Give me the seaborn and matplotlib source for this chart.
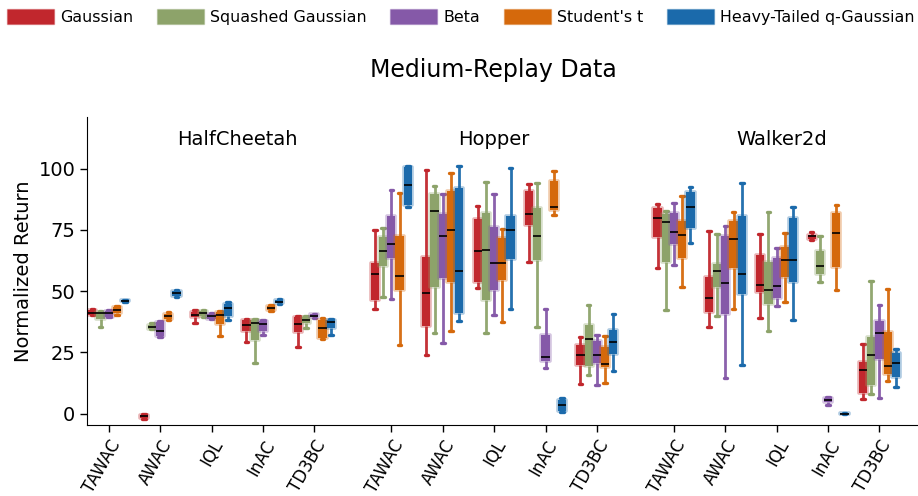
import numpy as np
import pandas as pd
import seaborn as sns
import matplotlib.pyplot as plt
from matplotlib.patches import Patch
from matplotlib.colors import to_rgba

envs = ["HalfCheetah", "Hopper", "Walker2d"]
algos = ["TAWAC", "AWAC", "IQL", "InAC", "TD3BC"]
dists = ["Gaussian", "Squashed Gaussian", "Beta", "Student's t", "Heavy-Tailed q-Gaussian"]
colors = ["#c1272d", "#8da36a", "#8559a8", "#d5690c", "#1b6aab"]

# five-number summaries: [low whisker, q1, median, q3, high whisker]
# order: distribution -> algorithm (TAWAC, AWAC, IQL, InAC, TD3BC)
halfcheetah = [
    [[40.1, 40.3, 41.2, 42.2, 42.8], [-2.4, -2.0, -1.0, -0.4, 0.0], [36.9, 39.3, 40.3, 41.4, 42.4], [29.0, 33.8, 36.1, 38.2, 38.7], [27.2, 33.3, 36.4, 39.5, 39.9]],
    [[35.4, 38.4, 40.9, 41.6, 42.0], [34.4, 34.6, 35.3, 36.3, 36.8], [39.3, 39.8, 40.9, 42.0, 42.3], [20.6, 29.9, 37.1, 38.2, 38.6], [34.9, 36.8, 38.3, 39.3, 39.8]],
    [[39.3, 39.5, 40.9, 42.0, 42.3], [31.1, 31.6, 33.5, 37.4, 37.9], [38.4, 38.7, 39.8, 40.7, 41.0], [32.2, 33.8, 36.5, 37.6, 38.3], [39.1, 39.4, 39.8, 40.5, 40.7]],
    [[40.2, 41.0, 42.4, 43.3, 44.0], [38.3, 38.6, 39.8, 40.7, 41.3], [31.8, 36.4, 40.3, 41.3, 41.8], [41.7, 42.1, 43.1, 44.0, 44.4], [30.3, 31.0, 35.0, 38.2, 39.1]],
    [[45.7, 45.9, 46.05, 46.2, 46.4], [47.7, 48.1, 49.05, 49.9, 50.4], [38.2, 39.7, 42.9, 44.7, 45.5], [44.8, 45.1, 45.6, 46.2, 46.6], [31.9, 34.9, 37.2, 38.0, 38.7]],
]
hopper = [
    [[42.5, 46.3, 56.8, 61.3, 74.8], [23.7, 35.7, 49.4, 63.7, 99.3], [51.4, 53.7, 66.3, 79.3, 84.7], [61.7, 77.1, 81.4, 90.7, 93.7], [12.2, 19.9, 23.7, 27.8, 31.4]],
    [[47.7, 60.2, 66.3, 72.1, 75.6], [32.9, 51.5, 82.7, 89.7, 93.0], [32.9, 46.5, 66.9, 82.0, 94.5], [35.4, 62.5, 72.6, 84.0, 94.1], [15.9, 19.4, 30.6, 36.0, 44.4]],
    [[46.7, 63.6, 69.2, 80.5, 91.1], [28.6, 55.2, 72.5, 81.4, 89.6], [40.3, 50.6, 61.3, 76.3, 89.7], [18.4, 21.4, 22.9, 32.0, 42.8], [11.5, 20.5, 23.9, 29.6, 32.0]],
    [[27.9, 50.4, 56.3, 72.6, 90.1], [33.6, 53.8, 75.0, 90.8, 98.2], [37.2, 54.6, 61.4, 71.5, 75.3], [81.2, 83.1, 84.3, 94.9, 99.1], [12.6, 18.8, 20.2, 27.3, 31.8]],
    [[84.3, 85.0, 93.4, 100.5, 101.2], [37.9, 41.2, 58.0, 92.2, 101.0], [42.7, 63.1, 74.8, 80.5, 100.3], [0.8, 1.2, 3.5, 5.5, 6.3], [17.3, 24.2, 29.2, 34.0, 40.6]],
]
walker2d = [
    [[59.5, 71.9, 79.7, 83.7, 85.7], [35.2, 41.4, 47.0, 55.6, 74.6], [38.8, 49.5, 52.4, 64.6, 73.1], [70.7, 71.1, 72.3, 73.0, 74.1], [5.8, 8.2, 17.6, 21.0, 28.2]],
    [[42.1, 61.8, 78.2, 81.6, 82.7], [39.7, 51.5, 58.0, 60.9, 73.4], [33.7, 44.6, 50.4, 61.8, 82.1], [53.8, 57.1, 60.1, 66.2, 72.3], [8.0, 11.8, 23.7, 31.2, 53.9]],
    [[60.6, 69.2, 74.2, 82.0, 85.9], [14.5, 40.6, 53.1, 72.5, 76.4], [44.0, 47.3, 51.9, 63.5, 67.6], [3.5, 4.6, 5.4, 6.3, 6.6], [6.2, 22.4, 32.7, 37.6, 44.4]],
    [[51.8, 63.6, 72.7, 78.6, 88.9], [42.8, 59.5, 71.1, 78.7, 82.4], [45.4, 55.6, 62.5, 67.8, 73.8], [50.3, 59.8, 73.5, 81.8, 85.0], [13.4, 16.3, 19.3, 33.3, 51.0]],
    [[69.5, 75.7, 84.1, 90.4, 92.5], [19.7, 48.8, 56.8, 80.6, 94.1], [38.0, 53.8, 62.6, 80.0, 84.1], [-0.2, -0.1, 0.0, 0.2, 0.3], [10.7, 14.9, 20.5, 24.7, 26.5]],
]
env_data = [halfcheetah, hopper, walker2d]
env_offsets = [0.0, 5.5, 11.0]

rows = []
for env, off, data in zip(envs, env_offsets, env_data):
    for d, dist in enumerate(dists):
        for a, algo in enumerate(algos):
            for v in data[d][a]:
                rows.append({"pos": off + a, "dist": dist, "value": v})
df = pd.DataFrame(rows)

sns.set_style("ticks")
plt.rcParams["font.family"] = ["DejaVu Sans"]
for k in ["text.color", "axes.labelcolor", "xtick.color", "ytick.color", "axes.edgecolor"]:
    plt.rcParams[k] = "black"

fig = plt.figure(figsize=(9.18, 4.96), dpi=100)
ax = fig.add_axes([0.095, 0.143, 0.905, 0.621])

sns.boxplot(data=df, x="pos", y="value", hue="dist", hue_order=dists,
            native_scale=True, whis=(0, 100), width=0.8, gap=0,
            showfliers=False, palette=colors, saturation=1, ax=ax,
            legend=False)

for i, cont in enumerate(ax.containers):
    c = colors[i]
    for b in cont.boxes:
        b.set_facecolor(c)
        b.set_edgecolor(to_rgba(c, 0.35))
        b.set_linewidth(2.6)
        b.set_joinstyle("round")
    for w in cont.whiskers:
        w.set_color(c)
        w.set_linewidth(2.0)
        w.set_alpha(0.95)
    for cp in cont.caps:
        cp.set_color(c)
        cp.set_linewidth(2.4)
        cp.set_solid_capstyle("round")
        xd = np.asarray(cp.get_xdata(), dtype=float)
        mid = xd.mean()
        cp.set_xdata([mid - 0.035, mid + 0.035])
    for m in cont.medians:
        m.set_color("black")
        m.set_linewidth(1.2)
        m.set_zorder(5)

ticks = [off + a for off in env_offsets for a in range(len(algos))]
ax.set_xticks(ticks)
ax.set_xticklabels(algos * 3, rotation=60, ha="right", rotation_mode="anchor", fontsize=12)
ax.set_xlim(-0.42, 15.75)
ax.set_ylim(-4.7, 121)
ax.set_yticks([0, 25, 50, 75, 100])
ax.tick_params(axis="y", labelsize=14, length=5, width=1)
ax.tick_params(axis="x", length=5, width=1)
ax.set_xlabel("")
ax.set_ylabel("Normalized Return", fontsize=14)
sns.despine(ax=ax)

title_x = [2.5, 7.5, 13.1]
for env, tx in zip(envs, title_x):
    ax.text(tx, 112, env, ha="center", va="center", fontsize=14)

fig.text(0.537, 0.858, "Medium-Replay Data", ha="center", va="center", fontsize=17)

handles = [Patch(facecolor=c, edgecolor=to_rgba(c, 0.35), linewidth=1) for c in colors]
fig.legend(handles, dists, loc="upper center", bbox_to_anchor=(0.502, 1.01),
           ncol=5, frameon=False, fontsize=11.4, handlelength=2.95,
           handleheight=1.1, handletextpad=0.4, columnspacing=1.5)

fig.savefig("out.png", dpi=100)
